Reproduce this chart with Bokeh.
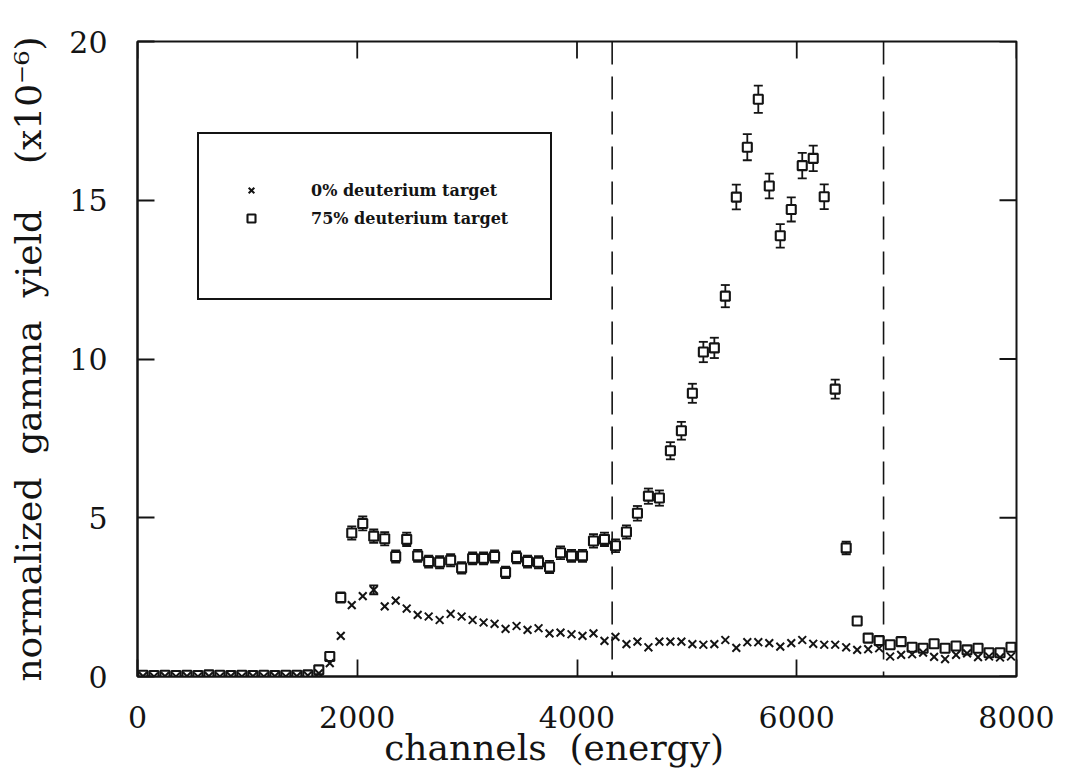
import math
from bokeh.plotting import figure
from bokeh.models import (ColumnDataSource, FixedTicker, Legend, LegendItem,
                          Span, Whisker, TeeHead, Range1d)
from bokeh.embed import file_html
from bokeh.resources import INLINE

# ---------------- data ----------------
channels = [50, 150, 250, 350, 450, 550, 650, 750, 850, 950,
            1050, 1150, 1250, 1350, 1450, 1550, 1650, 1750, 1850, 1950,
            2050, 2150, 2250, 2350, 2450, 2550, 2650, 2750, 2850, 2950,
            3050, 3150, 3250, 3350, 3450, 3550, 3650, 3750, 3850, 3950,
            4050, 4150, 4250, 4350, 4450, 4550, 4650, 4750, 4850, 4950,
            5050, 5150, 5250, 5350, 5450, 5550, 5650, 5750, 5850, 5950,
            6050, 6150, 6250, 6350, 6450, 6550, 6650, 6750, 6850, 6950,
            7050, 7150, 7250, 7350, 7450, 7550, 7650, 7750, 7850, 7950]

yield_0 = [0.01, 0.00, 0.01, 0.00, 0.01, 0.00, 0.01, 0.00, 0.01, 0.00,
           0.01, 0.00, 0.01, 0.00, 0.01, 0.03, 0.10, 0.42, 1.28, 2.25,
           2.53, 2.73, 2.21, 2.39, 2.14, 1.94, 1.89, 1.78, 1.97, 1.89,
           1.78, 1.70, 1.66, 1.50, 1.59, 1.47, 1.52, 1.36, 1.38, 1.33,
           1.28, 1.36, 1.12, 1.25, 1.02, 1.10, 0.92, 1.10, 1.10, 1.10,
           1.02, 1.00, 1.02, 1.15, 0.90, 1.08, 1.08, 1.05, 0.94, 1.05,
           1.15, 1.03, 1.00, 1.00, 0.92, 0.84, 0.86, 0.89, 0.63, 0.68,
           0.70, 0.75, 0.62, 0.55, 0.68, 0.73, 0.61, 0.63, 0.60, 0.63]

err_0 = [0, 0, 0, 0, 0, 0, 0, 0, 0, 0,
         0, 0, 0, 0, 0, 0, 0, 0, 0, 0,
         0, 0.14, 0, 0, 0, 0, 0, 0, 0, 0,
         0, 0, 0, 0, 0, 0, 0, 0, 0, 0,
         0, 0, 0, 0, 0, 0, 0, 0, 0, 0,
         0, 0, 0, 0, 0, 0, 0, 0, 0, 0,
         0, 0, 0, 0, 0, 0, 0, 0, 0, 0,
         0, 0, 0, 0, 0, 0, 0, 0, 0, 0]

yield_75 = [0.04, 0.03, 0.04, 0.03, 0.04, 0.03, 0.05, 0.04, 0.03, 0.04,
            0.03, 0.04, 0.03, 0.04, 0.04, 0.05, 0.21, 0.63, 2.49, 4.52,
            4.82, 4.42, 4.34, 3.78, 4.32, 3.80, 3.62, 3.60, 3.66, 3.42,
            3.72, 3.72, 3.78, 3.28, 3.75, 3.62, 3.60, 3.45, 3.90, 3.80,
            3.80, 4.27, 4.32, 4.12, 4.55, 5.14, 5.68, 5.62, 7.11, 7.74,
            8.92, 10.22, 10.35, 11.98, 15.10, 16.67, 18.18, 15.45, 13.88, 14.71,
            16.09, 16.32, 15.11, 9.05, 4.05, 1.75, 1.21, 1.13, 1.00, 1.10,
            0.92, 0.89, 1.03, 0.89, 0.96, 0.84, 0.89, 0.75, 0.75, 0.92]

err_75 = [0, 0, 0, 0, 0, 0, 0, 0, 0, 0,
          0, 0, 0, 0, 0, 0.02, 0.05, 0.08, 0.16, 0.21,
          0.22, 0.21, 0.21, 0.19, 0.21, 0.19, 0.19, 0.19, 0.19, 0.18,
          0.19, 0.19, 0.19, 0.18, 0.19, 0.19, 0.19, 0.19, 0.20, 0.19,
          0.19, 0.21, 0.21, 0.20, 0.21, 0.23, 0.24, 0.24, 0.27, 0.28,
          0.30, 0.32, 0.32, 0.35, 0.39, 0.41, 0.43, 0.39, 0.37, 0.38,
          0.40, 0.40, 0.39, 0.30, 0.20, 0.13, 0.11, 0.11, 0.10, 0.10,
          0.10, 0.09, 0.10, 0.09, 0.10, 0.09, 0.09, 0.09, 0.09, 0.10]

series_labels = ["0% deuterium target", "75% deuterium target"]
cut_channels = [4320, 6790]
x_ticks = [0, 2000, 4000, 6000, 8000]
y_ticks = [0, 5, 10, 15, 20]
NB = "\u00a0"
x_label = "channels" + NB * 2 + "(energy)" + NB * 4
y_label = ("normalized" + NB * 2 + "gamma" + NB * 2 + "yield" + NB * 4
           + "(x10\u207b\u2076)")

# ---------------- figure ----------------
FONT = "DejaVu Serif"
INK = "#141414"

p = figure(width=1062, height=777,
           x_range=Range1d(x_ticks[0], x_ticks[-1]),
           y_range=Range1d(y_ticks[0], y_ticks[-1]),
           output_backend="svg", toolbar_location=None,
           min_border_left=137, min_border_right=46,
           min_border_top=41, min_border_bottom=101)
p.xgrid.visible = False
p.ygrid.visible = False
p.outline_line_color = INK
p.outline_line_width = 2
p.outline_line_alpha = 1.0
p.background_fill_color = "white"
p.border_fill_color = "white"

for ax, ticks in ((p.xaxis[0], x_ticks), (p.yaxis[0], y_ticks)):
    ax.ticker = FixedTicker(ticks=ticks)
    ax.axis_line_color = INK
    ax.axis_line_width = 2
    ax.major_tick_line_color = INK
    ax.major_tick_line_width = 1.8
    ax.major_tick_in = 17
    ax.major_tick_out = 0
    ax.minor_tick_line_color = None
    ax.major_label_text_font = FONT
    ax.major_label_text_font_size = "30px"
    ax.major_label_text_color = INK
    ax.axis_label_text_font = FONT
    ax.axis_label_text_font_size = "36px"
    ax.axis_label_text_font_style = "normal"
    ax.axis_label_text_color = INK

p.xaxis[0].axis_label = x_label
p.yaxis[0].axis_label = y_label
p.xaxis[0].major_label_standoff = 29
p.xaxis[0].axis_label_standoff = -4
p.yaxis[0].major_label_standoff = 30
p.yaxis[0].axis_label_standoff = 17

# inward ticks on the top and right edges of the frame
p.ray(x=x_ticks, y=[y_ticks[-1]] * len(x_ticks), length=17, length_units="screen",
      angle=-math.pi / 2, line_color=INK, line_width=1.8)
p.ray(x=[x_ticks[-1]] * len(y_ticks), y=y_ticks, length=17, length_units="screen",
      angle=math.pi, line_color=INK, line_width=1.8)

# ---------------- error bars (under the markers) ----------------
def whisker_source(xs, ys, es):
    sel = [(x, y, e) for x, y, e in zip(xs, ys, es) if e > 0]
    return ColumnDataSource(dict(
        x=[s[0] for s in sel],
        upper=[s[1] + s[2] for s in sel],
        lower=[s[1] - s[2] for s in sel]))


for src in (whisker_source(channels, yield_75, err_75),
            whisker_source(channels, yield_0, err_0)):
    w = Whisker(source=src, base="x", upper="upper", lower="lower",
                dimension="height", line_color=INK, line_width=1.8,
                upper_head=TeeHead(size=9, line_color=INK, line_width=1.8),
                lower_head=TeeHead(size=9, line_color=INK, line_width=1.8),
                level="underlay")
    p.add_layout(w)

# ---------------- markers ----------------
src75 = ColumnDataSource(dict(x=channels, y=yield_75))
src0 = ColumnDataSource(dict(x=channels, y=yield_0))

r75 = p.scatter("x", "y", source=src75, marker="square", size=9,
                line_color=INK, line_width=2.1, fill_color="white")
r0 = p.scatter("x", "y", source=src0, marker="x", size=11,
               line_color=INK, line_width=2.0)

# ---------------- cut lines ----------------
for c in cut_channels:
    p.add_layout(Span(location=c, dimension="height", line_color=INK,
                      line_width=1.6, line_dash="23 12"))

# ---------------- legend ----------------
legend = Legend(items=[LegendItem(label=series_labels[0], renderers=[r0]),
                       LegendItem(label=series_labels[1], renderers=[r75])],
                location=(60, 376), margin=0, padding=42, spacing=0,
                glyph_width=20, glyph_height=28, label_height=28,
                label_standoff=50,
                label_text_font=FONT, label_text_font_size="16px",
                label_text_font_style="bold", label_text_color=INK,
                border_line_color=INK, border_line_width=2, border_line_alpha=1.0,
                background_fill_color="white", background_fill_alpha=1.0)
if "title_location" in Legend.properties():
    legend.title = NB
    legend.title_location = "below"
    legend.title_text_font_size = "15px"
    legend.title_standoff = 7
p.add_layout(legend, "center")

open("out.html", "w").write(file_html(p, INLINE))
